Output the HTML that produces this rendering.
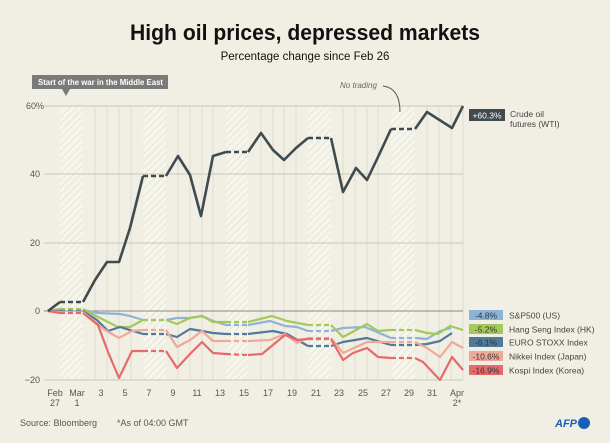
<!DOCTYPE html>
<html><head><meta charset="utf-8"><style>
body{margin:0;background:#f1efe3;}
svg{display:block;font-family:"Liberation Sans",sans-serif;}
</style></head><body>
<svg width="610" height="443" viewBox="0 0 610 443" xmlns="http://www.w3.org/2000/svg">
<defs>
<pattern id="h" width="5" height="5" patternUnits="userSpaceOnUse" patternTransform="rotate(45)">
<rect width="5" height="5" fill="#f6f5ec"/><line x1="0" y1="0" x2="0" y2="5" stroke="#e2e0d0" stroke-width="1.5"/>
</pattern>
</defs>
<rect width="610" height="443" fill="#f1efe3"/>
<text x="305" y="40" text-anchor="middle" font-size="22" font-weight="bold" fill="#111" textLength="350" lengthAdjust="spacingAndGlyphs">High oil prices, depressed markets</text>
<text x="305" y="60" text-anchor="middle" font-size="11.5" fill="#111">Percentage change since Feb 26</text>
<g fill="url(#h)">
<rect x="60" y="106" width="23" height="274"/>
<rect x="143" y="106" width="23" height="274"/>
<rect x="226" y="106" width="22" height="274"/>
<rect x="308" y="106" width="23" height="274"/>
<rect x="391" y="106" width="24" height="274"/>
</g>
<g stroke="#dfddcd" stroke-width="1">
<line x1="95" y1="106" x2="95" y2="380"/><line x1="107" y1="106" x2="107" y2="380"/><line x1="119" y1="106" x2="119" y2="380"/><line x1="131" y1="106" x2="131" y2="380"/>
<line x1="178" y1="106" x2="178" y2="380"/><line x1="190" y1="106" x2="190" y2="380"/><line x1="202" y1="106" x2="202" y2="380"/><line x1="213" y1="106" x2="213" y2="380"/>
<line x1="261" y1="106" x2="261" y2="380"/><line x1="273" y1="106" x2="273" y2="380"/><line x1="284" y1="106" x2="284" y2="380"/><line x1="296" y1="106" x2="296" y2="380"/>
<line x1="343" y1="106" x2="343" y2="380"/><line x1="355" y1="106" x2="355" y2="380"/><line x1="367" y1="106" x2="367" y2="380"/><line x1="378" y1="106" x2="378" y2="380"/>
<line x1="427" y1="106" x2="427" y2="380"/><line x1="439" y1="106" x2="439" y2="380"/><line x1="451" y1="106" x2="451" y2="380"/><line x1="463" y1="106" x2="463" y2="380"/>
</g>
<g stroke="#c8c9b4" stroke-width="1">
<line x1="44" y1="106" x2="463" y2="106"/><line x1="44" y1="174" x2="463" y2="174"/><line x1="44" y1="243" x2="463" y2="243"/><line x1="44" y1="380" x2="463" y2="380"/>
</g>
<line x1="44" y1="311" x2="463" y2="311" stroke="#8a8a85" stroke-width="1"/>
<g font-size="9" fill="#555" text-anchor="end">
<text x="44" y="109">60%</text><text x="40" y="177">40</text><text x="40" y="246">20</text><text x="40" y="314">0</text><text x="40" y="383">−20</text>
</g>
<g font-size="9" fill="#555" text-anchor="middle">
<text x="55" y="396">Feb</text><text x="55" y="406">27</text>
<text x="77" y="396">Mar</text><text x="77" y="406">1</text>
<text x="101" y="396">3</text><text x="125" y="396">5</text><text x="149" y="396">7</text><text x="173" y="396">9</text>
<text x="197" y="396">11</text><text x="220" y="396">13</text><text x="244" y="396">15</text><text x="268" y="396">17</text>
<text x="292" y="396">19</text><text x="316" y="396">21</text><text x="339" y="396">23</text><text x="363" y="396">25</text>
<text x="386" y="396">27</text><text x="409" y="396">29</text><text x="432" y="396">31</text>
<text x="457" y="396">Apr</text><text x="457" y="406">2*</text>
</g>
<rect x="32" y="75" width="136" height="14" fill="#7a7a78"/>
<polygon points="62,89 70,89 66,96" fill="#7a7a78"/>
<text x="38" y="85" font-size="8" font-weight="bold" fill="#fff" textLength="125" lengthAdjust="spacingAndGlyphs">Start of the war in the Middle East</text>
<text x="340" y="88" font-size="8" font-style="italic" fill="#666">No trading</text>
<path d="M383,86 Q400,88 400,112" fill="none" stroke="#555" stroke-width="1"/>
<g fill="none" stroke-width="2.2" stroke-linejoin="round">
<g stroke="#8db4d8">
<polyline points="48,311 60,310"/><polyline points="83,310 98,313 120,314 130,316 143,320"/><polyline points="166,320 177,318 190,318 202,316 213,321 226,325"/><polyline points="248,325 270,321 285,326 297,327 308,331"/><polyline points="331,331 343,328 365,327 377,332 391,338"/><polyline points="415,338 427,339 440,331 451,328"/>
<g stroke-dasharray="5,3"><line x1="60" y1="310" x2="83" y2="310"/><line x1="143" y1="320" x2="166" y2="320"/><line x1="226" y1="325" x2="248" y2="325"/><line x1="308" y1="331" x2="331" y2="331"/><line x1="391" y1="338" x2="415" y2="338"/></g>
</g>
<g stroke="#a5c85a">
<polyline points="48,311 60,309"/><polyline points="83,309 98,317 118,327 130,327 143,320"/><polyline points="166,320 177,324 190,318 202,316 213,322 226,322"/><polyline points="248,322 272,316 287,321 308,325"/><polyline points="331,325 343,337 367,324 378,331 391,330"/><polyline points="415,330 427,333 438,334 450,326 463,330"/>
<g stroke-dasharray="5,3"><line x1="60" y1="309" x2="83" y2="309"/><line x1="143" y1="320" x2="166" y2="320"/><line x1="226" y1="322" x2="248" y2="322"/><line x1="308" y1="325" x2="331" y2="325"/><line x1="391" y1="330" x2="415" y2="330"/></g>
</g>
<g stroke="#4f7a9a">
<polyline points="48,311 60,311"/><polyline points="83,311 97,320 108,331 120,327 143,334"/><polyline points="166,334 177,337 190,329 202,331 213,333 226,334"/><polyline points="248,334 273,331 287,334 308,346"/><polyline points="331,346 343,342 367,338 391,345"/><polyline points="415,345 427,344 440,341 452,333"/>
<g stroke-dasharray="5,3"><line x1="60" y1="311" x2="83" y2="311"/><line x1="143" y1="334" x2="166" y2="334"/><line x1="226" y1="334" x2="248" y2="334"/><line x1="308" y1="346" x2="331" y2="346"/><line x1="391" y1="345" x2="415" y2="345"/></g>
</g>
<g stroke="#f0a898">
<polyline points="48,311 60,312"/><polyline points="83,312 105,330 119,338 132,331 143,330"/><polyline points="166,330 177,347 190,340 202,331 213,341 226,341"/><polyline points="248,341 270,340 285,334 297,343 308,338"/><polyline points="331,338 343,353 367,342 391,342"/><polyline points="415,342 427,348 440,357 452,342 463,348"/>
<g stroke-dasharray="5,3"><line x1="60" y1="312" x2="83" y2="312"/><line x1="143" y1="330" x2="166" y2="330"/><line x1="226" y1="341" x2="248" y2="341"/><line x1="308" y1="338" x2="331" y2="338"/><line x1="391" y1="342" x2="415" y2="342"/></g>
</g>
<g stroke="#e8696a">
<polyline points="48,311 60,313"/><polyline points="83,313 98,325 108,352 119,378 132,351 143,351"/><polyline points="166,351 177,368 190,354 202,342 213,353 226,354"/><polyline points="248,355 262,354 285,335 297,340 308,339"/><polyline points="331,339 343,360 353,353 367,348 378,357 391,358"/><polyline points="415,358 423,362 440,380 452,357 463,370"/>
<g stroke-dasharray="5,3"><line x1="60" y1="313" x2="83" y2="313"/><line x1="143" y1="351" x2="166" y2="351"/><line x1="226" y1="354" x2="248" y2="355"/><line x1="308" y1="339" x2="331" y2="339"/><line x1="391" y1="358" x2="415" y2="358"/></g>
</g>
<g stroke="#3f4b4f" stroke-width="2.6">
<polyline points="48,311 60,302"/><polyline points="83,302 95,280 107,262 119,262 130,228 143,176"/><polyline points="166,176 178,156 190,175 201,216 213,156 226,152"/><polyline points="248,152 261,133 273,150 284,160 296,148 308,138"/><polyline points="331,138 343,192 356,168 367,180 378,157 391,129"/><polyline points="415,129 427,112 452,128 463,106"/>
<g stroke-dasharray="5,3"><line x1="60" y1="302" x2="83" y2="302"/><line x1="143" y1="176" x2="166" y2="176"/><line x1="226" y1="152" x2="248" y2="152"/><line x1="308" y1="138" x2="331" y2="138"/><line x1="391" y1="129" x2="415" y2="129"/></g>
</g>
</g>
<rect x="469" y="109" width="36" height="12" fill="#3f4b4f"/>
<text x="487" y="118.5" text-anchor="middle" font-size="8.5" fill="#fff">+60.3%</text>
<text x="510" y="117" font-size="8.5" fill="#444">Crude oil</text>
<text x="510" y="127" font-size="8.5" fill="#444">futures (WTI)</text>
<g font-size="8.5" text-anchor="middle" fill="#333">
<rect x="469" y="310" width="34" height="10" fill="#8db4d8"/><text x="486" y="318.5">-4.8%</text>
<rect x="469" y="324" width="34" height="10" fill="#a5c85a"/><text x="486" y="332.5">-5.2%</text>
<rect x="469" y="337" width="34" height="10" fill="#4f7a9a"/><text x="486" y="345.5">-6.1%</text>
<rect x="469" y="351" width="34" height="10" fill="#f0a898"/><text x="486" y="359.5">-10.6%</text>
<rect x="469" y="365" width="34" height="10" fill="#e8696a"/><text x="486" y="373.5">-16.9%</text>
</g>
<g font-size="8.5" fill="#444">
<text x="509" y="318.5">S&amp;P500 (US)</text>
<text x="509" y="332.5">Hang Seng Index (HK)</text>
<text x="509" y="345.5">EURO STOXX Index</text>
<text x="509" y="359.5">Nikkei Index (Japan)</text>
<text x="509" y="373.5">Kospi Index (Korea)</text>
</g>
<text x="20" y="426" font-size="9" fill="#555">Source: Bloomberg</text>
<text x="117" y="426" font-size="9" fill="#555">*As of 04:00 GMT</text>
<text x="577" y="427" font-size="11" font-weight="bold" font-style="italic" fill="#1a5fb4" text-anchor="end">AFP</text>
<circle cx="584" cy="423" r="6" fill="#1a5fb4"/>
</svg>
</body></html>
